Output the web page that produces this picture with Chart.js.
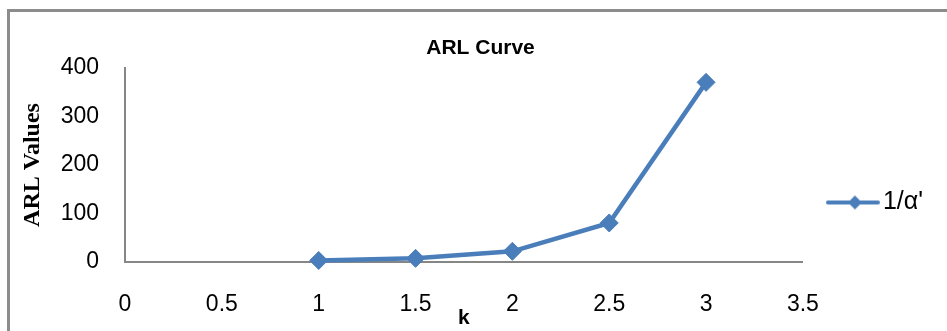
<!DOCTYPE html>
<html>
<head>
<meta charset="utf-8">
<script src="https://cdn.jsdelivr.net/npm/chart.js@4/dist/chart.umd.min.js"></script>
<style>
  html, body { margin: 0; padding: 0; background: #ffffff; }
  #wrap { width: 947px; height: 331px; position: relative; }
</style>
</head>
<body>
<div id="wrap"><canvas id="c" width="947" height="331"></canvas></div>
<script>
// ---- data ----
const kValues = [1, 1.5, 2, 2.5, 3];
const arlValues = [3.15, 7.49, 21.98, 80.52, 370.4];
const seriesLabel = "1/α'";
const xTickValues = [0, 0.5, 1, 1.5, 2, 2.5, 3, 3.5];
const xTickLabels = ['0', '0.5', '1', '1.5', '2', '2.5', '3', '3.5'];
const yTickValues = [0, 100, 200, 300, 400];
const yTickLabels = ['0', '100', '200', '300', '400'];
const chartTitle = 'ARL Curve';
const xAxisTitle = 'k';
const yAxisTitle = 'ARL Values';

const BLUE = '#4A7EBB';
const AXIS = '#868686';

// legend marker: line with diamond
function legendMarker() {
  const c = document.createElement('canvas');
  c.width = 54; c.height = 16;
  const g = c.getContext('2d');
  g.strokeStyle = BLUE; g.lineWidth = 4; g.lineCap = 'round';
  g.beginPath(); g.moveTo(2, 8); g.lineTo(52, 8); g.stroke();
  g.fillStyle = BLUE;
  g.beginPath(); g.moveTo(29, 1); g.lineTo(36, 8); g.lineTo(29, 15); g.lineTo(22, 8); g.closePath(); g.fill();
  return c;
}

const framePlugin = {
  id: 'frame',
  beforeDraw(chart) {
    const ctx = chart.ctx;
    ctx.save();
    ctx.fillStyle = '#ffffff';
    ctx.fillRect(0, 0, chart.width, chart.height);
    ctx.strokeStyle = '#8c8c8c';
    ctx.lineWidth = 3;
    ctx.beginPath();
    ctx.moveTo(8.5, chart.height + 5);
    ctx.lineTo(8.5, 10.5);
    ctx.lineTo(chart.width + 5, 10.5);
    ctx.stroke();
    ctx.restore();
  },
  afterLayout(chart) {
    if (chart.titleBlock) {
      chart.titleBlock.left += 14;
      chart.titleBlock.right += 14;
    }
  }
};

new Chart(document.getElementById('c'), {
  type: 'line',
  data: {
    datasets: [{
      label: seriesLabel,
      data: kValues.map((k, i) => ({ x: k, y: arlValues[i] })),
      borderColor: BLUE,
      backgroundColor: BLUE,
      borderWidth: 4.5,
      tension: 0,
      pointStyle: 'rectRot',
      pointRadius: 9,
      pointBorderWidth: 1,
      pointBackgroundColor: BLUE,
      pointBorderColor: BLUE,
      clip: false
    }]
  },
  options: {
    responsive: false,
    animation: false,
    devicePixelRatio: 1,
    layout: { padding: { left: 0, right: 14, top: 0, bottom: 0 } },
    plugins: {
      tooltip: { enabled: false },
      title: {
        display: true,
        text: chartTitle,
        color: '#000000',
        font: { family: 'Liberation Sans', size: 21, weight: 'bold', lineHeight: 1.2 },
        padding: { top: 36, bottom: 6.8 }
      },
      legend: {
        position: 'right',
        align: 'center',
        title: { display: true, text: '', font: { size: 12, lineHeight: 1.2 }, padding: { top: 59.6, bottom: 0 } },
        labels: {
          usePointStyle: true,
          pointStyle: legendMarker(),
          pointStyleWidth: 35,
          padding: 32.5,
          color: '#000000',
          font: { family: 'Liberation Sans', size: 25, lineHeight: 1.2 }
        }
      }
    },
    scales: {
      x: {
        type: 'linear',
        min: 0, max: 3.5,
        afterBuildTicks(scale) { scale.ticks = xTickValues.map(v => ({ value: v })); },
        afterFit(scale) { scale.height = 69; },
        grid: { display: false, drawTicks: false },
        border: { display: true, color: AXIS, width: 2 },
        ticks: {
          autoSkip: false, maxRotation: 0, padding: 28.5, color: '#000000',
          callback: (v, i) => xTickLabels[i],
          font: { family: 'Liberation Sans', size: 23, lineHeight: 1.2 }
        },
        title: {
          display: true, text: xAxisTitle, color: '#000000',
          font: { family: 'Liberation Sans', size: 21, weight: 'bold', lineHeight: 1.2 },
          padding: { top: 0, bottom: 0 }
        }
      },
      y: {
        type: 'linear',
        min: 0, max: 400,
        afterBuildTicks(scale) { scale.ticks = yTickValues.map(v => ({ value: v })); },
        afterFit(scale) { scale.width = 125; },
        grid: { display: false, drawTicks: false },
        border: { display: true, color: AXIS, width: 2 },
        ticks: {
          padding: 26, color: '#000000',
          callback: (v, i) => yTickLabels[i],
          font: { family: 'Liberation Sans', size: 23, lineHeight: 1.2 }
        },
        title: {
          display: true, text: yAxisTitle, color: '#000000',
          font: { family: 'Liberation Serif', size: 24, weight: 'bold', lineHeight: 1.2 },
          padding: { top: 18, bottom: 0 }
        }
      }
    }
  },
  plugins: [framePlugin]
});
</script>
</body>
</html>
